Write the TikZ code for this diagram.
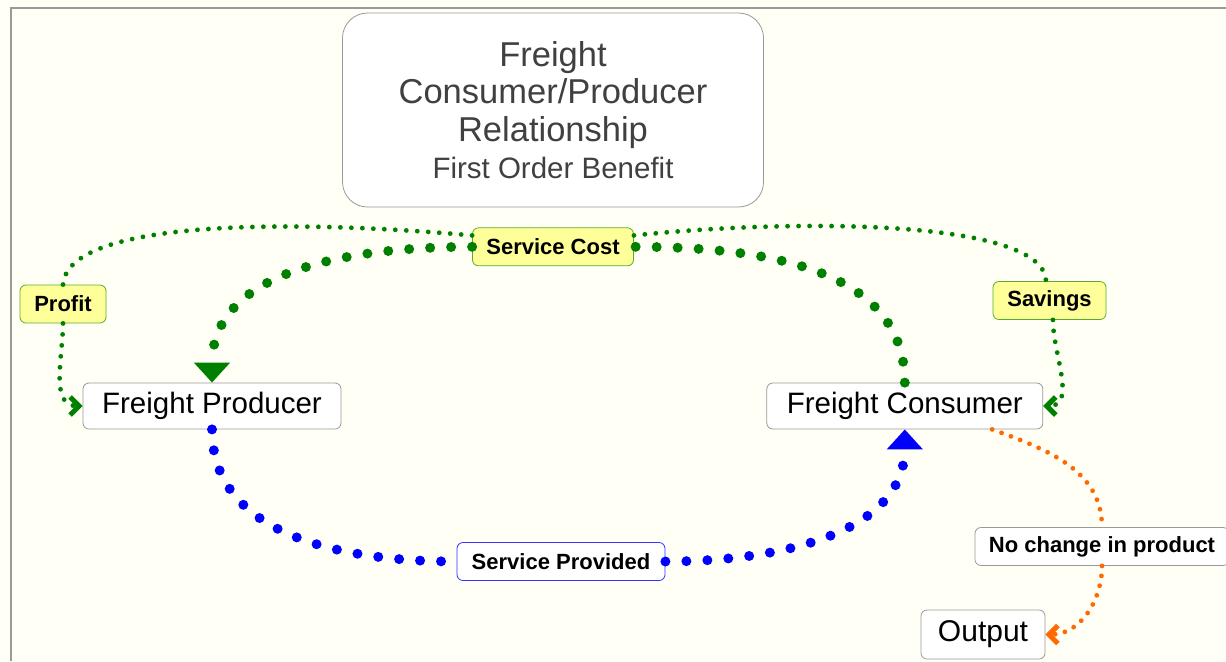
\documentclass[tikz,border=0pt]{standalone}
\usepackage{fontspec}
\setmainfont{Liberation Sans}
\usetikzlibrary{positioning,arrows.meta}

\definecolor{paper}{HTML}{FFFFF5}
\definecolor{linkgreen}{HTML}{008000}
\definecolor{linkblue}{HTML}{0000FF}
\definecolor{linkorange}{HTML}{FF6A00}
\definecolor{notefill}{HTML}{FFFF99}
\definecolor{noteline}{HTML}{5AAA32}
\definecolor{boxline}{HTML}{999999}
\definecolor{titletext}{HTML}{404040}

\begin{document}
\begin{tikzpicture}[x=0.5pt,y=-0.5pt,
		topic/.style={draw=boxline, fill=white, rounded corners=3pt, inner sep=0pt,
			minimum height=23pt, font=\fontsize{14.75}{16}\selectfont},
		note/.style={draw=noteline, fill=notefill, rounded corners=3pt, inner sep=0pt,
			minimum height=19pt, font=\fontsize{11}{12}\selectfont\bfseries},
		bigdots/.style={line width=5pt, dash pattern=on 0pt off 10.5pt, line cap=round},
		smalldots/.style={line width=2.4pt, dash pattern=on 0pt off 5.5pt, line cap=round},
		bighead/.style={-{Triangle[width=17.5pt,length=10pt]}},
		barbhead/.style={-{Straight Barb[width=9pt,length=4.5pt,line width=2.5pt]}}
	]
		\useasboundingbox (0,0) rectangle (1226,661);
		\fill[paper] (0,0) rectangle (1226,661);
		\draw[boxline, line width=1pt] (11,661) |- (1226,8);

		\node[draw=boxline,
			fill=white,
			rounded corners=12.5pt,
			minimum width=210.5pt,
			minimum height=97pt,
			align=center,
			text=titletext,
			font=\fontsize{17.25}{18.75}\selectfont
		] (title) at (553,110) {Freight\\Consumer/Producer\\Relationship\\{\fontsize{14.75}{18.75}\selectfont First Order Benefit}};

		\node[topic,
			minimum width=129pt
		] (producer) at (212,406) {Freight Producer};

		\node[topic,
			right=212.5pt of producer,
			minimum width=138pt
		] (consumer) {Freight Consumer};

		\node[topic,
			minimum width=62pt,
			minimum height=24.5pt,
			font=\fontsize{15}{16}\selectfont
		] (output) at (983,634.5) {Output};

		\node[note,
			below=10pt of title,
			minimum width=80.5pt
		] (scost) {Service Cost};

		\node[note,
			minimum width=43pt
		] (profit) at (63,304) {Profit};

		\node[note,
			minimum width=56.5pt
		] (savings) at (1049.5,300.5) {Savings};

		\node[note,
			draw=linkblue!80,
			fill=white,
			minimum width=104pt
		] (sprov) at (561,561.5) {Service Provided};

		\node[note,
			draw=boxline,
			fill=white,
			minimum width=127pt
		] (nochange) at (1102,546.5) {No change in product};

		% service loop
		\draw[bigdots, linkgreen] (consumer.north) to[out=90,in=0] (scost.east);
		\draw[bigdots, linkgreen, bighead] (scost.west) to[out=180,in=90] (producer.north);
		\draw[bigdots, linkblue] (producer.south) to[out=-90,in=180] (sprov.west);
		\draw[bigdots, linkblue, bighead] (sprov.east) to[out=0,in=-90] (consumer.south);

		% benefit of the cost
		\draw[smalldots, linkgreen] (scost.172) .. controls (300,220) and (68,218) .. (profit.north);
		\draw[smalldots, linkgreen, barbhead] (profit.south) to[out=-90,in=180] (producer.west);
		\draw[smalldots, linkgreen] (scost.8) .. controls (800,218) and (1044,220) .. (savings.100);
		\draw[smalldots, linkgreen, barbhead] (savings.-80) to[out=-90,in=0] (consumer.east);

		% product
		\draw[smalldots, linkorange, dash pattern=on 0pt off 5pt] (consumer.-15) to[out=-20,in=90] (nochange.north);
		\draw[smalldots, linkorange, dash pattern=on 0pt off 5pt, barbhead] (nochange.south) to[out=-90,in=0] (output.east);

	\end{tikzpicture}
\end{document}
